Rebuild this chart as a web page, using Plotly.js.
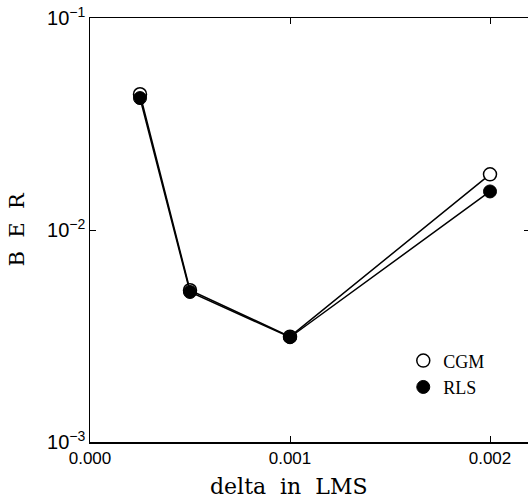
<!DOCTYPE html>
<html>
<head>
<meta charset="utf-8">
<script src="https://cdn.plot.ly/plotly-3.0.1.min.js"></script>
<style>
html,body{margin:0;padding:0;overflow:hidden;background:#fff;}
#chart{width:532px;height:500px;}
</style>
</head>
<body>
<div id="chart"></div>
<script>
const delta = [0.00025, 0.0005, 0.001, 0.002];
const berCGM = [0.0437, 0.0052, 0.00314, 0.0183];
const berRLS = [0.0419, 0.0051, 0.00312, 0.0152];
const seriesNames = ['CGM', 'RLS'];
const xTickVals = [0, 0.001, 0.002];
const xTickText = ['0.000', '0.001', '0.002'];
const xTitle = 'delta  in  LMS';
const yTitle = 'B  E  R';

const traces = [
  {x: delta, y: berCGM, mode: 'lines+markers', showlegend: false,
   line: {color: '#000', width: 1.5},
   marker: {symbol: 'circle', size: 13, color: '#fff', line: {color: '#000', width: 1.5}}},
  {x: delta, y: berRLS, mode: 'lines+markers', showlegend: false,
   line: {color: '#000', width: 1.5},
   marker: {symbol: 'circle', size: 13, color: '#000', line: {color: '#000', width: 1}}},
  {x: [null], y: [null], mode: 'markers', name: seriesNames[0],
   marker: {symbol: 'circle', size: 13, color: '#fff', line: {color: '#000', width: 1.5}}},
  {x: [null], y: [null], mode: 'markers', name: seriesNames[1],
   marker: {symbol: 'circle', size: 13, color: '#000', line: {color: '#000', width: 1}}}
];

const layout = {
  width: 532, height: 500,
  margin: {l: 90, r: 2, t: 18, b: 58},
  paper_bgcolor: '#fff', plot_bgcolor: '#fff',
  showlegend: true,
  legend: {x: 0.712, y: 0.235, xanchor: 'left', yanchor: 'top',
           bgcolor: 'rgba(0,0,0,0)', borderwidth: 0,
           font: {family: 'Liberation Serif', size: 18, color: '#000'},
           itemwidth: 30, tracegroupgap: 2},
  xaxis: {
    range: [0, 0.0022], tickvals: xTickVals, ticktext: xTickText,
    ticks: 'inside', ticklen: 6, tickwidth: 1, tickcolor: '#000',
    showline: true, linecolor: '#000', linewidth: 1.5, mirror: 'ticks',
    showgrid: false, zeroline: false,
    tickfont: {family: 'Liberation Sans', size: 17, color: '#000'}
  },
  yaxis: {
    type: 'log', range: [-3, -1], dtick: 1, exponentformat: 'power',
    ticks: 'inside', ticklen: 6, tickwidth: 1, tickcolor: '#000',
    showline: true, linecolor: '#000', linewidth: 1.5, mirror: 'ticks',
    showgrid: false, zeroline: false,
    tickfont: {family: 'Liberation Sans', size: 16, color: '#000'}
  },
  annotations: [
    {xref: 'paper', yref: 'paper', x: 0.45, y: -0.106, xanchor: 'center', yanchor: 'middle',
     text: xTitle, showarrow: false,
     font: {family: 'DejaVu Serif', size: 22, color: '#000'}},
    {xref: 'paper', yref: 'paper', x: -0.167, y: 0.5, xanchor: 'center', yanchor: 'middle',
     text: yTitle, showarrow: false, textangle: -90,
     font: {family: 'DejaVu Serif', size: 21, color: '#000'}}
  ]
};

Plotly.newPlot('chart', traces, layout, {displayModeBar: false, staticPlot: true});
</script>
</body>
</html>
